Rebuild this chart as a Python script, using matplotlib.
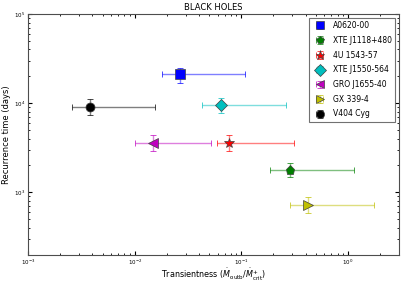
import matplotlib
matplotlib.use("Agg")
import matplotlib.pyplot as plt

# data
names = ["A0620-00", "XTE J1118+480", "4U 1543-57", "XTE J1550-564",
         "GRO J1655-40", "GX 339-4", "V404 Cyg"]
trans = [0.0267, 0.283, 0.077, 0.0649, 0.0149, 0.426, 0.00382]
trans_lo = [0.0181, 0.187, 0.0596, 0.043, 0.0100, 0.288, 0.00259]
trans_hi = [0.109, 1.15, 0.315, 0.265, 0.052, 1.77, 0.0156]
trec = [21000, 1800, 3600, 9500, 3600, 718, 9000]
trec_lo = [16700, 1470, 2930, 7740, 2930, 585, 7350]
trec_hi = [25000, 2150, 4400, 11400, 4400, 880, 11000]

colors = ["b", "g", "r", "c", "m", "y", "k"]
markers = ["s", "p", "*", "D", "<", ">", "o"]

plt.rcParams["font.family"] = "DejaVu Sans"
fig = plt.figure(figsize=(4.07, 2.83), dpi=100)
ax = fig.add_axes([0.069, 0.1, 0.911, 0.851])

for i in range(len(names)):
    xerr = [[trans[i] - trans_lo[i]], [trans_hi[i] - trans[i]]]
    yerr = [[trec[i] - trec_lo[i]], [trec_hi[i] - trec[i]]]
    ax.errorbar([trans[i]], [trec[i]], xerr=xerr, yerr=yerr,
                fmt=markers[i], color=colors[i], ecolor=colors[i],
                elinewidth=1, capsize=2, markersize=6.5 if markers[i] != "*" else 7.5,
                markeredgecolor="0.25", markeredgewidth=0.5, label=names[i])
# lighter error bar lines, like the original
for c in ax.collections:
    c.set_alpha(0.5)

ax.set_xscale("log")
ax.set_yscale("log")
ax.set_xlim(1e-3, 3)
ax.set_ylim(200, 1e5)
ax.set_title("BLACK HOLES", fontsize=6, pad=3)
ax.set_xlabel(r"Transientness ($\dot{M}_{\rm outb}/\dot{M}^{+}_{\rm crit}$)", fontsize=5.8, labelpad=0)
ax.set_ylabel("Recurrence time (days)", fontsize=6, labelpad=2)
ax.tick_params(axis="both", which="both", direction="in", labelsize=4, top=True, right=True, pad=2)
ax.tick_params(which="major", length=3)
ax.tick_params(which="minor", length=1.5)
for s in ax.spines.values():
    s.set_color("0.3")

leg = ax.legend(loc="upper right", fontsize=5.5, numpoints=1, fancybox=False,
                borderpad=0.45, labelspacing=0.75, handlelength=1.8, markerscale=0.9)
leg.get_frame().set_edgecolor("0.3")
leg.get_frame().set_linewidth(0.8)

plt.savefig("out.png", dpi=100)
